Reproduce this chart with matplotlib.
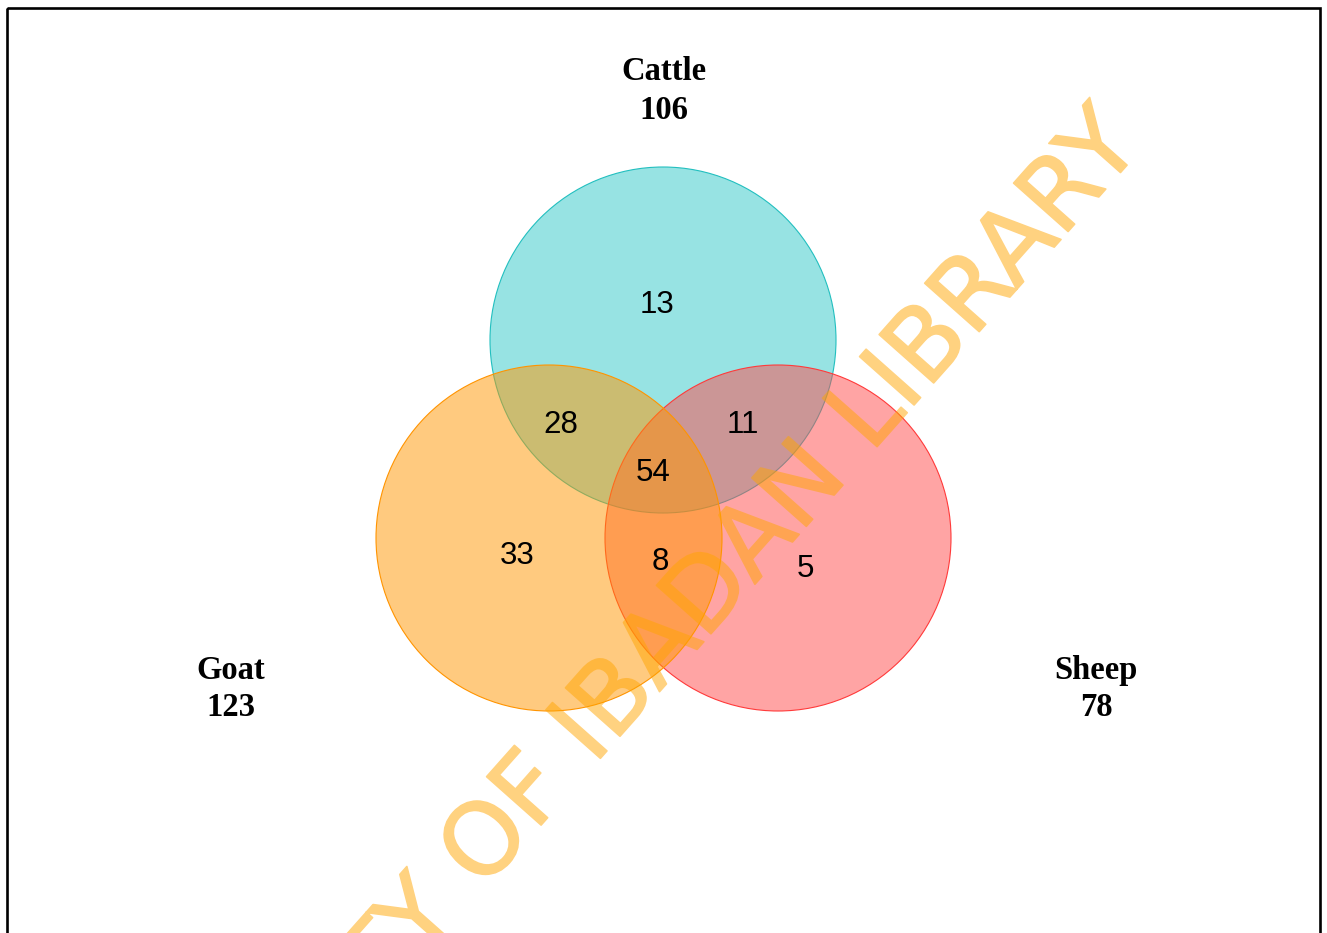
import matplotlib
matplotlib.use('Agg')
import matplotlib.pyplot as plt
import matplotlib.patheffects as pe
from matplotlib.patches import Circle, Rectangle

# set names and totals
set_names = ['Cattle', 'Goat', 'Sheep']
set_totals = [106, 123, 78]

# region counts: cattle only, cattle&goat, cattle&sheep, all three, goat only, goat&sheep, sheep only
region_names = ['C', 'CG', 'CS', 'CGS', 'G', 'GS', 'S']
region_counts = [13, 28, 11, 54, 33, 8, 5]

watermark = 'UNIVERSITY OF IBADAN LIBRARY'

# layout (figure pixels, y down)
W, H = 1327, 933
circle_xy = {'Cattle': (663, 340), 'Goat': (549, 538), 'Sheep': (778, 538)}
radius = 173
face = {'Cattle': (49/255, 201/255, 201/255, 0.5),
        'Goat': (1.0, 151/255, 0.0, 0.5),
        'Sheep': (1.0, 75/255, 75/255, 0.5)}
edge = {'Cattle': '#22bfbf', 'Goat': '#ff9400', 'Sheep': '#ff3a3a'}
draw_order = ['Cattle', 'Sheep', 'Goat']
label_xy = {'Cattle': (664, 80, 119), 'Goat': (231, 679, 716), 'Sheep': (1096, 679, 716)}
region_xy = {'C': (657, 313), 'CG': (561, 433), 'CS': (743, 433), 'CGS': (653, 481),
             'G': (517, 564), 'GS': (660, 570), 'S': (805, 577)}


def half_alpha(im, dpi):
    # fade the whole watermark at once so stroke and fill don't stack
    im = im.copy()
    im[..., 3] *= 0.5
    return im, 0, 0


fig = plt.figure(figsize=(W / 100, H / 100), dpi=100)
ax = fig.add_axes([0, 0, 1, 1])
ax.set_xlim(0, W)
ax.set_ylim(H, 0)
ax.axis('off')

ax.add_patch(Rectangle((6.5, 8), 1313, 960, fill=False, ec='black', lw=1.9, zorder=1))

for i, name in enumerate(draw_order):
    ax.add_patch(Circle(circle_xy[name], radius, fc=face[name], ec=edge[name],
                        lw=0.8, zorder=2 + i))

for name, count in zip(region_names, region_counts):
    x, y = region_xy[name]
    ax.text(x, y, str(count), ha='center', va='baseline', fontsize=22.5,
            family='Liberation Sans', color='black', zorder=10)

for name, total in zip(set_names, set_totals):
    x, y1, y2 = label_xy[name]
    ax.text(x, y1, name, ha='center', va='baseline', fontsize=23.5,
            family='Liberation Serif', weight='bold', zorder=10)
    ax.text(x, y2, str(total), ha='center', va='baseline', fontsize=23.5,
            family='Liberation Serif', weight='bold', zorder=10)

wm = ax.text(606, 752, watermark, rotation=48.4, rotation_mode='anchor',
             ha='center', va='baseline', fontsize=72, family='DejaVu Sans',
             color='#ffa500', zorder=9)
wm.set_path_effects([pe.withStroke(linewidth=1.2, foreground='#ffa500')])
wm.set_agg_filter(half_alpha)

fig.savefig('out.png', dpi=100)
